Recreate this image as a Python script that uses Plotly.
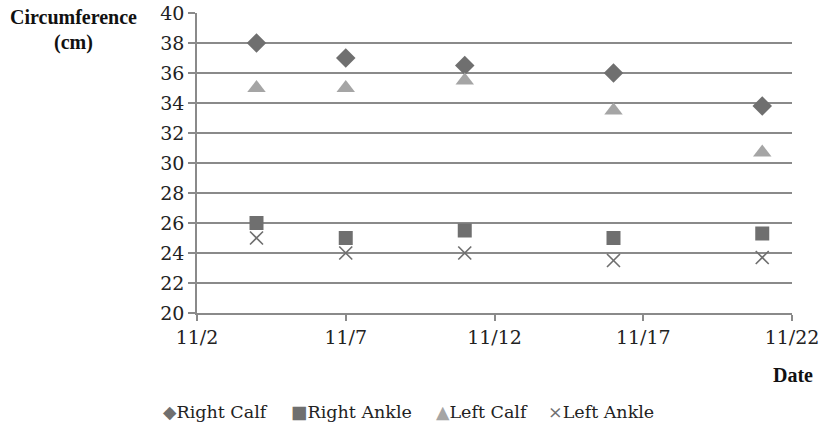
import plotly.graph_objects as go

dates = ["2013-11-04", "2013-11-07", "2013-11-11", "2013-11-16", "2013-11-21"]
right_calf = [38, 37, 36.5, 36, 33.8]
right_ankle = [26, 25, 25.5, 25, 25.3]
left_calf = [35, 35, 35.5, 33.5, 30.7]
left_ankle = [25, 24, 24, 23.5, 23.7]
x_ticks = ["2013-11-02", "2013-11-07", "2013-11-12", "2013-11-17", "2013-11-22"]
x_tick_labels = ["11/2", "11/7", "11/12", "11/17", "11/22"]
series_names = ["Right Calf", "Right Ankle", "Left Calf", "Left Ankle"]
legend_glyphs = ["◆", "■", "▲", "×"]

dark = "#6f6f6f"
light = "#a5a5a5"
grid = "#8a8a8a"
serif = "DejaVu Serif"
title_font = "Liberation Serif"
colors = [dark, dark, light, dark]

fig = go.Figure()
fig.add_trace(go.Scatter(x=dates, y=right_calf, mode="markers", name=series_names[0],
                         marker=dict(symbol="diamond", size=15, color=dark)))
fig.add_trace(go.Scatter(x=dates, y=right_ankle, mode="markers", name=series_names[1],
                         marker=dict(symbol="square", size=14, color=dark)))
fig.add_trace(go.Scatter(x=dates, y=left_calf, mode="markers", name=series_names[2],
                         marker=dict(symbol="triangle-up", size=16, color=light)))
fig.add_trace(go.Scatter(x=dates, y=left_ankle, mode="markers", name=series_names[3],
                         marker=dict(symbol="x-thin", size=13, color=dark,
                                     line=dict(color=dark, width=1.6))))

W = 595.0
H = 300.0
X0, Y0 = 197, 313  # plot-area bottom-left in pixels


def px_x(px):
    return (px - X0) / W


def px_y(py):
    return (Y0 - py) / H


legend_px = [161, 289, 434, 546]
annotations = [
    dict(text="<b>Circumference</b>", xref="paper", yref="paper",
         x=px_x(73), y=px_y(17), xanchor="center", yanchor="middle",
         showarrow=False, font=dict(family=title_font, size=20, color="#111")),
    dict(text="<b>(cm)</b>", xref="paper", yref="paper",
         x=px_x(73), y=px_y(42), xanchor="center", yanchor="middle",
         showarrow=False, font=dict(family=title_font, size=20, color="#111")),
    dict(text="<b>Date</b>", xref="paper", yref="paper",
         x=px_x(815), y=px_y(375), xanchor="right", yanchor="middle",
         showarrow=False, font=dict(family=title_font, size=20, color="#111")),
]
for name, glyph, col, px in zip(series_names, legend_glyphs, colors, legend_px):
    annotations.append(dict(
        text=f'<span style="color:{col}">{glyph}</span>{name}',
        xref="paper", yref="paper", x=px_x(px), y=px_y(412),
        xanchor="left", yanchor="middle", showarrow=False,
        font=dict(family=serif, size=17.5, color="#222")))

fig.update_layout(
    width=821, height=429,
    margin=dict(l=197, r=29, t=13, b=116, autoexpand=False),
    paper_bgcolor="white", plot_bgcolor="white",
    font=dict(family=serif, size=18, color="#222"),
    showlegend=False,
    xaxis=dict(type="date", range=["2013-11-02", "2013-11-22"],
               tickvals=x_ticks, ticktext=x_tick_labels, automargin=False,
               showgrid=False, showline=True, linecolor=grid, linewidth=1.5,
               ticks="outside", ticklen=6, tickcolor=grid, tickwidth=1.5,
               tickfont=dict(family=serif, size=19, color="#222"), zeroline=False),
    yaxis=dict(range=[20, 40], dtick=2, showgrid=True, gridcolor=grid, gridwidth=1.5,
               automargin=False,
               showline=True, linecolor=grid, linewidth=1.5,
               ticks="outside", ticklen=7, tickcolor=grid, tickwidth=1.5,
               tickfont=dict(family=serif, size=19, color="#222"), zeroline=False),
    annotations=annotations,
)

fig.write_html("out.html", config={"displayModeBar": False},
               post_script="document.body.style.margin='0';document.body.style.overflow='hidden';")
